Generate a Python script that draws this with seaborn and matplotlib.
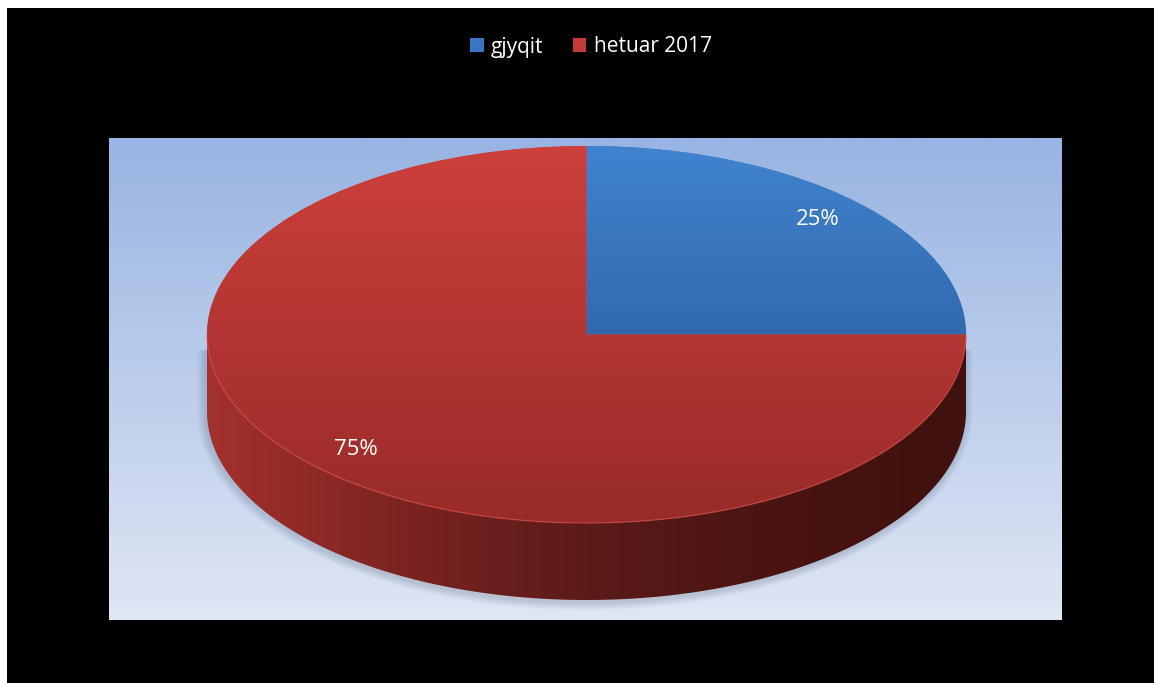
import numpy as np
import matplotlib
matplotlib.use("Agg")
import matplotlib.pyplot as plt
from matplotlib.patches import Rectangle, Patch, Polygon
import seaborn as sns

# data
labels = ["gjyqit", "hetuar 2017"]
values = [25, 75]
top_colors = [("#4083cf", "#24508c"), ("#cd403c", "#982b28")]
legend_colors = ["#3a76c0", "#c23b37"]
side_colors = ["#a4312d", "#7c2421", "#5b1b19", "#4a1412", "#3f110f"]

sns.set_theme(style="white")
plt.rcParams["font.family"] = ["Open Sans", "DejaVu Sans"]

W, H = 1154, 683
fig = plt.figure(figsize=(W / 100, H / 100), dpi=100, facecolor="white")
fig.patches.append(Rectangle((7 / W, 0), 1, 1 - 8 / H, transform=fig.transFigure,
                             facecolor="black", edgecolor="none", zorder=-5))

# plot area in pixels
px_left, px_right, px_top, px_bot = 109, 1062, 138, 620
cx, cy, rx, ry, depth_px = 586.5, 334.5, 379.5, 188.5, 77
ax = fig.add_axes([px_left / W, 1 - px_bot / H, (px_right - px_left) / W, (px_bot - px_top) / H])
ax.set_zorder(1)
xlim = (-(cx - px_left) / rx, (px_right - cx) / rx)
ylim = (-(px_bot - cy) / ry, (cy - px_top) / ry)
depth = depth_px / ry

# background gradient
bg = sns.blend_palette(["#dfe6f4", "#98b4e2"], as_cmap=True)
ax.imshow(np.linspace(0, 1, 256)[::-1].reshape(-1, 1), cmap=bg, aspect="auto",
          extent=[xlim[0], xlim[1], ylim[0], ylim[1]], zorder=0)

# soft shadow under side
tt = np.linspace(np.pi, 2 * np.pi, 200)
for k in range(1, 7):
    off = k * 1.3
    ax.fill_between(np.cos(tt) * (1 + off / rx) - 2 / rx,
                    np.sin(tt) * (1 + off / ry) - depth - 1.5 / ry,
                    np.full_like(tt, -0.08), color="#34455f", alpha=0.035, lw=0, zorder=1)

# side wall from the slice angles (start at 90, clockwise)
side_cmap = sns.blend_palette(side_colors, as_cmap=True)
start = 90.0
total = sum(values)
for v in values:
    a1 = start - 360.0 * v / total
    a0 = start
    start = a1
    lo, hi = a1 % 360, a1 % 360 + (a0 - a1)
    for shift in (0, 360, -360):
        s, e = max(lo + shift, 180), min(hi + shift, 360)
        if e <= s:
            continue
        th = np.radians(np.linspace(s, e, 300))
        xs, ys = np.cos(th), np.sin(th)
        pts = np.vstack([np.column_stack([xs, ys]),
                         np.column_stack([xs[::-1], ys[::-1] - depth])])
        poly = Polygon(pts, closed=True, facecolor="none", edgecolor="none")
        ax.add_patch(poly)
        im = ax.imshow(np.linspace(0, 1, 256).reshape(1, -1), cmap=side_cmap, aspect="auto",
                       extent=[-1, 1, -1 - depth, 0], zorder=2)
        im.set_clip_path(poly)

# top face
wedges, texts, autotexts = ax.pie(values, startangle=90, counterclock=False,
                                  colors=legend_colors, autopct="%1.0f%%",
                                  pctdistance=0.86,
                                  textprops={"color": "white", "fontsize": 16},
                                  wedgeprops={"linewidth": 0})
for w, (c_top, c_bot) in zip(wedges, top_colors):
    w.set_zorder(3)
    cm = sns.blend_palette([c_bot, c_top], as_cmap=True)
    im = ax.imshow(np.linspace(0, 1, 256)[::-1].reshape(-1, 1), cmap=cm, aspect="auto",
                   extent=[-1, 1, -1, 1], zorder=4)
    im.set_clip_path(w)
for t in autotexts:
    t.set_zorder(6)
# light rim on the front edge
th = np.linspace(np.pi, 2 * np.pi, 300)
ax.plot(np.cos(th), np.sin(th), color="#d9504a", lw=1, alpha=0.6, zorder=5)

ax.set_aspect("auto")
ax.set_xlim(xlim)
ax.set_ylim(ylim)
ax.axis("off")

handles = [Patch(facecolor=c, edgecolor="none") for c in legend_colors]
fig.legend(handles, labels, loc="center", bbox_to_anchor=(0.512, 1 - 47 / H), ncol=2,
           frameon=False, labelcolor="white", fontsize=15, handlelength=0.65,
           handleheight=0.65, handletextpad=0.35, columnspacing=1.4)

fig.savefig("out.png", dpi=100, facecolor="white")
